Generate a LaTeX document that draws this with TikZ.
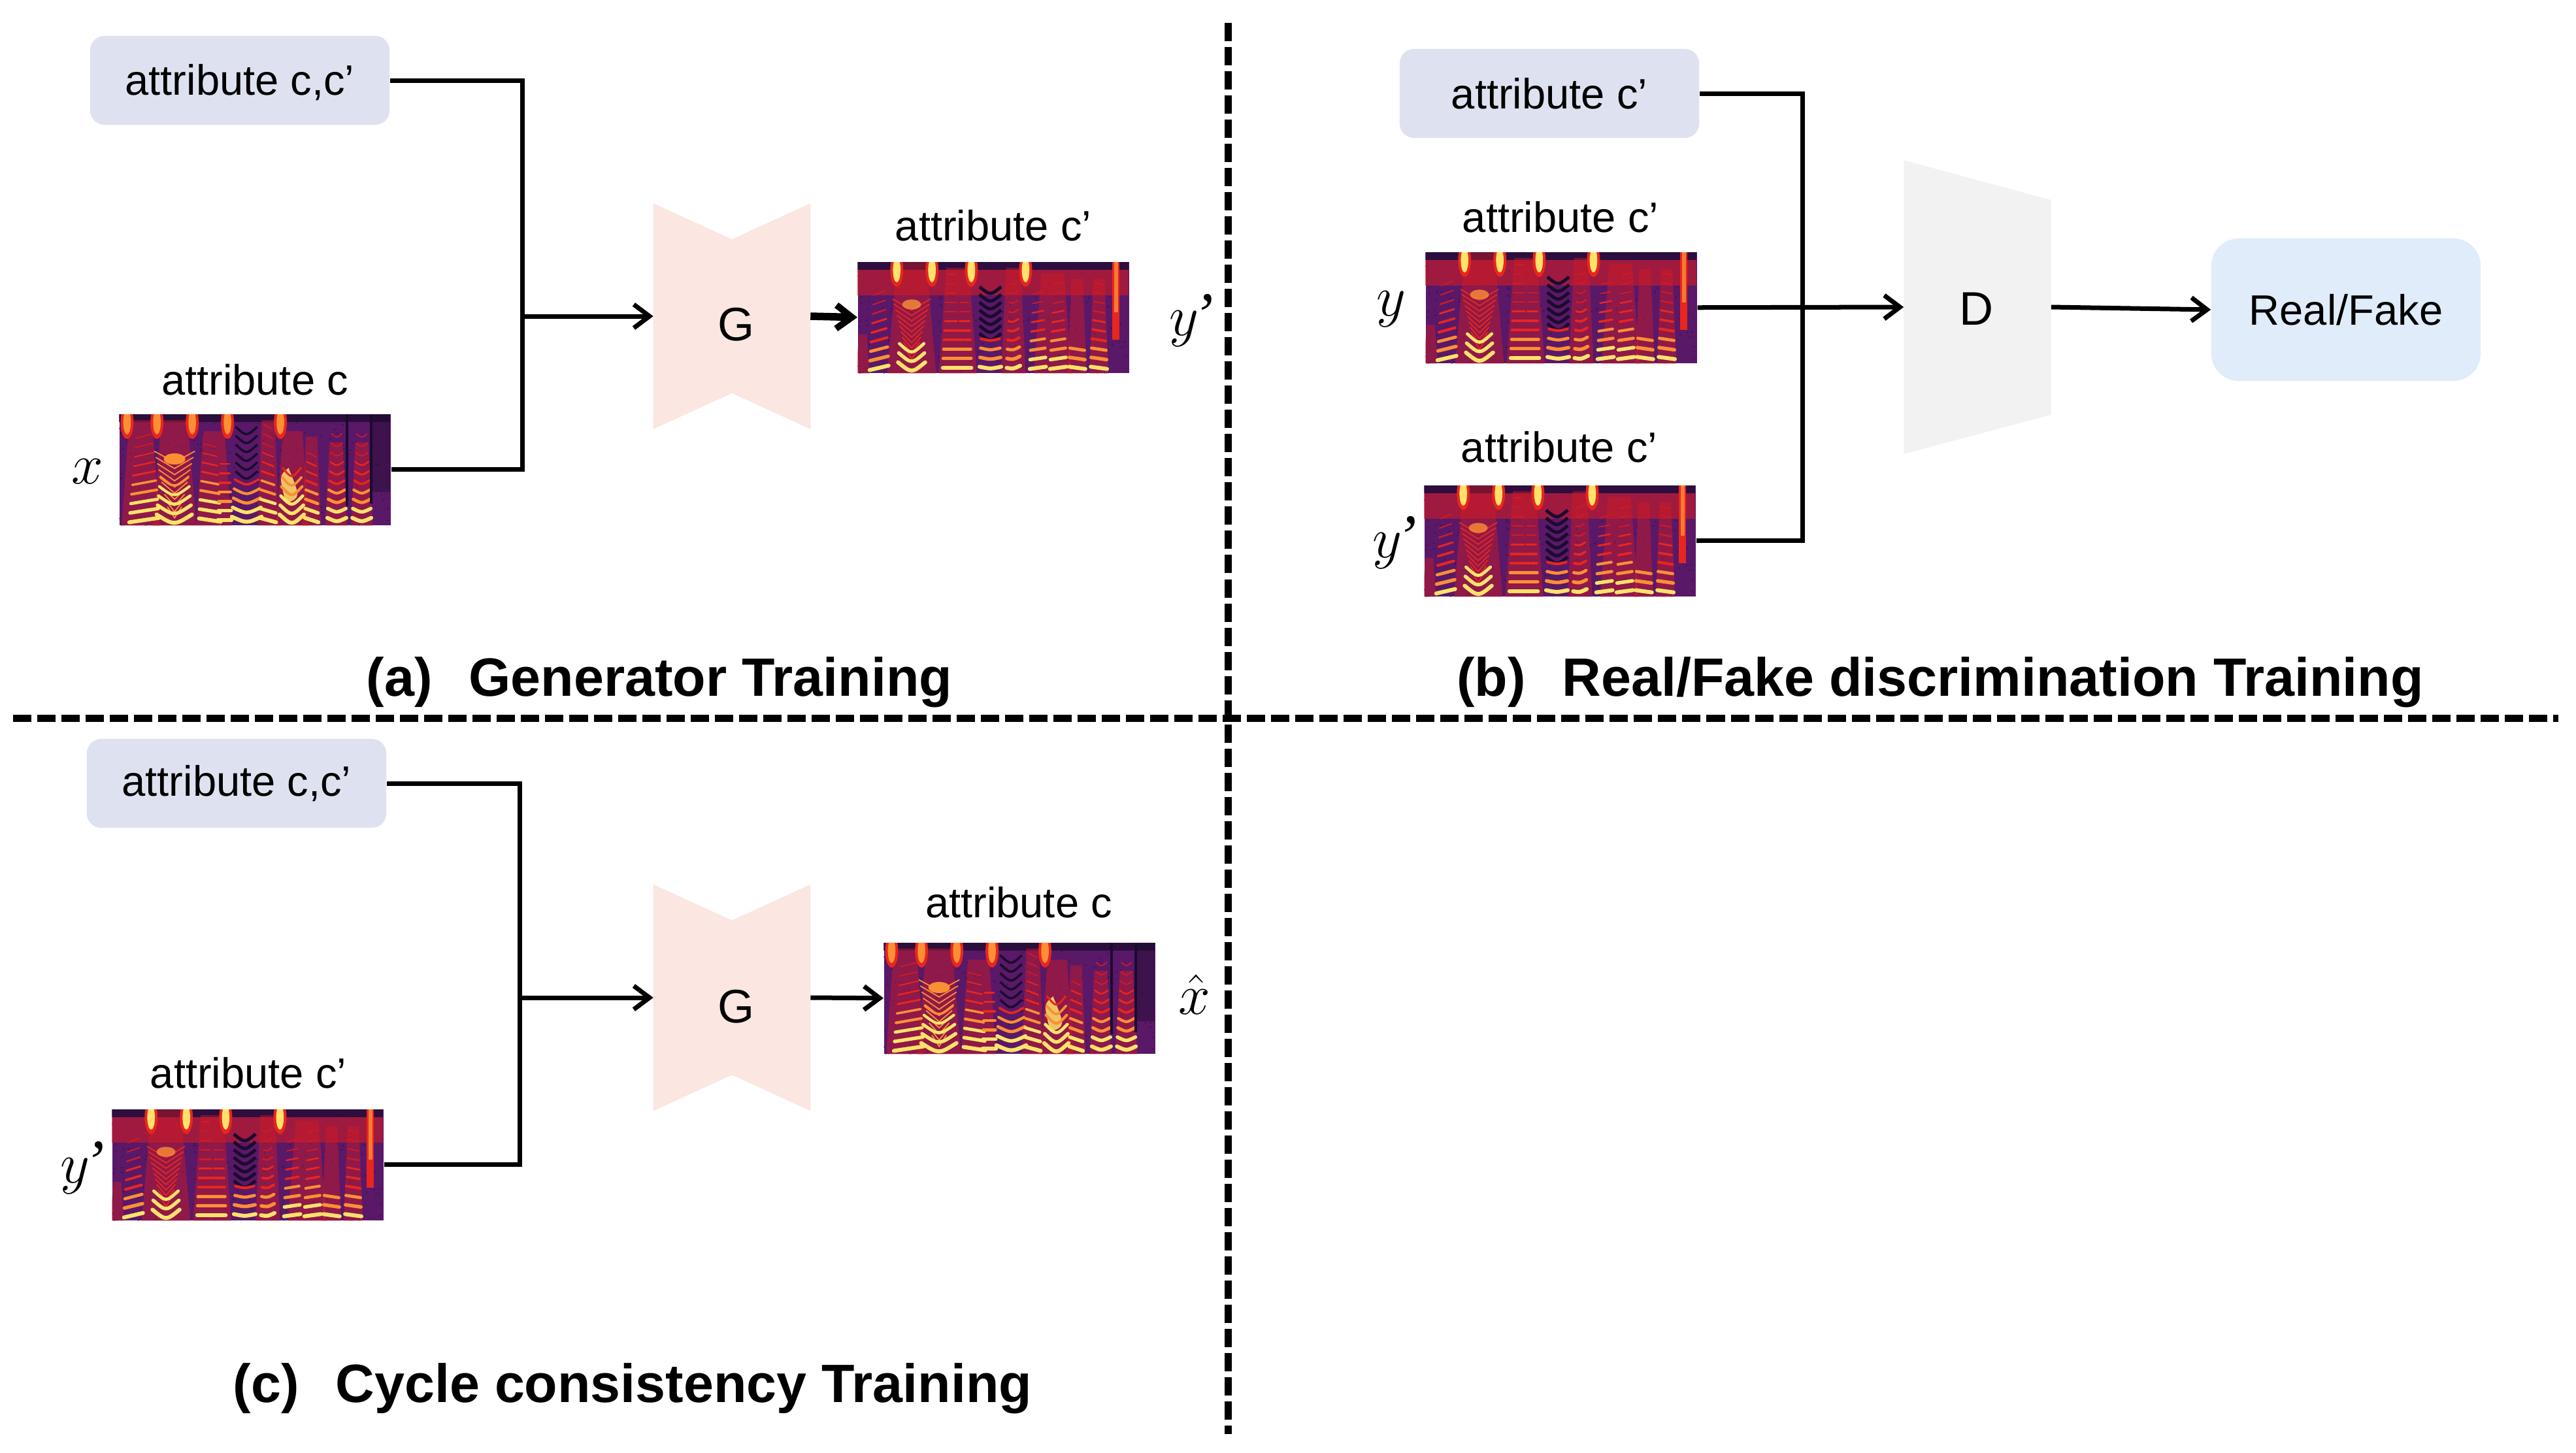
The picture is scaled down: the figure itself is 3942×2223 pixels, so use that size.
\documentclass[tikz,border=0pt]{standalone}
\usepackage{fontspec}
\setmainfont{Liberation Sans}
\newfontfamily\tickfont{Liberation Serif}
\usetikzlibrary{arrows.meta}
\definecolor{boxlav}{HTML}{DEE2F0}
\definecolor{boxblue}{HTML}{E0ECFA}
\definecolor{genpink}{HTML}{FBE6E1}
\definecolor{discgray}{HTML}{F2F2F2}
\definecolor{specbg}{HTML}{5A1868}
\definecolor{sp0}{HTML}{FFE26A}
\definecolor{sp1}{HTML}{FB8F34}
\definecolor{sp2}{HTML}{E8261E}
\definecolor{sp3}{HTML}{D01C24}
\definecolor{spdark}{HTML}{1B0B2E}
\tikzset{
  attrbox/.style={rounded corners=0.22cm,fill=boxlav,minimum width=4.58cm,minimum height=1.36cm,inner sep=0pt,font=\fontsize{18.5}{22}\selectfont},
  spec/.style={fill=specbg,minimum width=4.15cm,minimum height=1.70cm,inner sep=0pt,anchor=north west},
  lbl/.style={font=\fontsize{18.5}{22}\selectfont,inner sep=0pt},
  netlbl/.style={font=\fontsize{20.5}{24}\selectfont,inner sep=0pt},
  mathlbl/.style={font=\fontsize{27}{32}\selectfont,inner sep=0pt},
  ttl/.style={font=\fontsize{23.5}{28}\selectfont\bfseries,inner sep=0pt},
  netbox/.style={minimum width=2.39cm,inner sep=0pt},
  wire/.style={line width=0.07cm},
  flow/.style={line width=0.07cm,-{Straight Barb[length=0.24cm,width=0.36cm,line width=0.07cm]}},
  thickflow/.style={line width=0.115cm,-{Straight Barb[length=0.24cm,width=0.36cm,line width=0.1cm]}},
  divider/.style={line width=0.11cm,dash pattern=on 0.28cm off 0.09cm},
}
% one harmonic stack: centre, half width, curve, slope, top index, bright count
\newcommand\syl[6]{\foreach \k in {0,...,#5}{%
  \pgfmathsetmacro\yy{.05+.084*\k}%
  \pgfmathtruncatemacro\cc{\k<#6?0:(\k<(#6+2)?1:(\k<(#6+5)?2:3))}%
  \pgfmathsetmacro\lw{max(.016,.06-.006*\k)}%
  \pgfmathsetmacro\ww{#2*(1-.05*\k)}%
  \draw[draw=sp\cc,line width=\lw cm,line cap=round] (#1-\ww,\yy+#3-#4) .. controls (#1,\yy-#3) .. (#1+\ww,\yy+#3+#4);
}}
% fine chevrons filling a vowel: centre, half width, from height, to height, colour
\newcommand\fine[5]{\foreach \k in {0,...,9}{%
  \pgfmathsetmacro\yy{#3+(#4-#3)*\k/9}%
  \pgfmathsetmacro\ww{#2*(.35+.65*\k/9)}%
  \draw[draw=#5,line width=.018cm] (#1-\ww,\yy+.05) -- (#1,\yy-.05) -- (#1+\ww,\yy+.05);
}}
\newcommand\glow[3]{\fill[sp3,opacity=.45] (#1-#2,0) -- (#1+#2,0) -- (#1+.6*#2,#3) -- (#1-.6*#2,#3) -- cycle;}
\newcommand\blob[2]{\fill[sp2] (#1,.93) ellipse [x radius=.024,y radius=.15];
  \fill[sp#2] (#1,.93) ellipse [x radius=.014,y radius=.11];}
\newcommand\noisy{\pgfmathsetseed{11}\foreach \i in {1,...,260}{%
  \pgfmathsetmacro\px{rnd}\pgfmathsetmacro\py{rnd}%
  \fill[spdark,opacity=.55] (\px,\py) circle (0.012cm);}}
\newcommand\specA[1]{\begin{scope}[shift={(#1.south west)},x=4.15cm,y=1.70cm]
  \clip (0,0) rectangle (1,1);
  \noisy
  \fill[spdark,opacity=.75] (0,.93) rectangle (1,1);
  \fill[spdark,opacity=.45] (.93,.3) rectangle (1,1);
  \glow{.08}{.07}{.95}\glow{.205}{.08}{.95}\glow{.35}{.065}{.85}\glow{.55}{.04}{.95}\glow{.64}{.06}{.85}
  \glow{.71}{.035}{.8}\glow{.80}{.04}{.75}\glow{.895}{.04}{.75}
  \blob{.03}{1}\blob{.14}{1}\blob{.27}{1}\blob{.40}{1}\blob{.595}{1}
  \fine{.205}{.075}{.12}{.62}{sp1}
  \fill[sp1] (.205,.6) ellipse [x radius=.04,y radius=.05];
  \fill[sp0,opacity=.85] (.615,.2) .. controls (.67,.25) .. (.625,.52) .. controls (.59,.45) .. (.615,.2);
  \foreach \k in {5,...,10}{\draw[spdark,line width=.035cm] (.43,.08*\k+.09) .. controls (.47,.08*\k) .. (.51,.08*\k+.09);}
  \syl{.093}{.055}{0}{.02}{9}{3}
  \syl{.204}{.065}{.05}{0}{4}{4}
  \syl{.335}{.04}{0}{-.015}{8}{3}
  \syl{.39}{.025}{0}{0}{6}{2}
  \syl{.471}{.055}{.03}{0}{4}{2}
  \syl{.549}{.03}{0}{-.02}{10}{3}
  \syl{.637}{.045}{.05}{0}{5}{3}
  \syl{.71}{.025}{0}{-.02}{7}{2}
  \syl{.803}{.035}{.02}{0}{9}{2}
  \syl{.895}{.035}{.02}{0}{9}{2}
  \fill[spdark] (.836,0.18) rectangle (.846,1);
  \fill[spdark] (.925,0.2) rectangle (.935,1);
\end{scope}}
\newcommand\specB[1]{\begin{scope}[shift={(#1.south west)},x=4.15cm,y=1.70cm]
  \clip (0,0) rectangle (1,1);
  \noisy
  \fill[spdark,opacity=.7] (0,.93) rectangle (1,1);
  \fill[sp3,opacity=.6] (0,.7) rectangle (1,.93);
  \glow{.02}{.025}{.35}\glow{.2}{.09}{1}\glow{.37}{.07}{.95}\glow{.575}{.045}{.95}\glow{.72}{.07}{.9}\glow{.81}{.035}{.85}\glow{.89}{.035}{.85}
  \fill[sp2] (.94,.3) rectangle (.965,1);
  \fill[sp1,opacity=.8] (.947,.55) rectangle (.96,1);
  \blob{.145}{0}\blob{.275}{0}\blob{.42}{0}\blob{.62}{0}
  \fine{.2}{.07}{.18}{.62}{sp2}
  \fill[sp1,opacity=.8] (.2,.62) ellipse [x radius=.035,y radius=.045];
  \foreach \k in {4,...,10}{\draw[spdark,line width=.05cm] (.45,.07*\k+.08) .. controls (.49,.07*\k) .. (.53,.07*\k+.08);}
  \syl{.08}{.035}{0}{.02}{8}{1}
  \syl{.2}{.05}{.05}{0}{2}{3}
  \syl{.345}{.03}{0}{0}{10}{1}
  \syl{.395}{.025}{0}{0}{7}{1}
  \syl{.49}{.04}{.01}{0}{3}{1}
  \syl{.575}{.025}{.01}{.01}{9}{1}
  \syl{.665}{.03}{0}{.01}{8}{2}
  \syl{.74}{.03}{0}{.01}{9}{2}
  \syl{.81}{.03}{0}{-.01}{2}{1}
  \syl{.89}{.03}{0}{-.01}{9}{1}
\end{scope}}
% hourglass-shaped generator drawn round its named node
\newcommand\hourglass[1]{\fill[genpink] (#1.north west) -- ([yshift=-0.55cm]#1.north) -- (#1.north east) -- (#1.south east) -- ([yshift=0.55cm]#1.south) -- (#1.south west) -- cycle;}
\newcommand\ytick{$y$\kern-0.09em{\tickfont\itshape ’}}
\begin{document}
\begin{tikzpicture}[x=0.01cm,y=-0.01cm]
\useasboundingbox (0,0) rectangle (3942,2223);
\fill[white] (0,0) rectangle (3942,2223);

% dividers
\coordinate (vtop) at (1879,35); \coordinate (vbot) at (1879,2195);
\coordinate (hleft) at (20,1099); \coordinate (hright) at (3915,1099);
\draw[divider] (vtop) -- (vbot);
\draw[divider] (hleft) -- (hright);

% (a)
\node[attrbox,text height=0.46cm,text depth=0.02cm] (boxa) at (367,123) {attribute c,c’};
\node[spec] (xa) at (182,633) {};
\specA{xa}
\node[lbl] (lxa) at (390,581) {attribute c};
\node[mathlbl] (mxa) at (134,722) {$x$};
\node[netbox,minimum height=3.44cm] (ga) at (1120,484) {};
\hourglass{ga}
\node[netlbl] (gatxt) at (1127,497) {G};
\node[spec] (ya) at (1312,400) {};
\specB{ya}
\node[lbl] (lya) at (1520,345) {attribute c’};
\node[mathlbl] (mya) at (1823,490) {\ytick};
\coordinate (ja) at (799,484);
\draw[wire] (boxa.east) -| (ja);
\draw[wire] (xa.east) -| (ja);
\draw[flow] (ja) -- (ga.west);
\draw[thickflow] (ga.east) -- (ya.west);
\node[ttl] (ta) at (1009,1044) {(a)\ \ \kern.12em Generator Training};

% (b)
\node[attrbox] (boxb) at (2371,143) {attribute c’};
\node[spec] (yb) at (2181,385) {};
\specB{yb}
\node[lbl] (lyb) at (2388,332) {attribute c’};
\node[mathlbl] (myb) at (2129,473) {$y$};
\node[spec] (ypb) at (2179,742) {};
\specB{ypb}
\node[lbl] (lypb) at (2386,684) {attribute c’};
\node[mathlbl] (mypb) at (2134,830) {\ytick};
\node[netbox,minimum width=2.24cm,minimum height=4.48cm] (db) at (3026,470) {};
\fill[discgray] (db.north west) -- ([yshift=-0.61cm]db.north east) -- ([yshift=0.60cm]db.south east) -- (db.south west) -- cycle;
\node[netlbl] (dtxt) at (3024,473) {D};
\node[rounded corners=0.42cm,fill=boxblue,minimum width=4.12cm,minimum height=2.18cm,inner sep=0pt,font=\fontsize{18.5}{22}\selectfont] (rf) at (3590,474) {Real/Fake};
\coordinate (jb) at (2758,470);
\draw[wire] (boxb.east) -| (jb);
\draw[wire] (ypb.east) -| (jb);
\draw[flow] (yb.east) -- (db.west);
\draw[flow] (db.east) -- (rf.west);
\node[ttl] (tb) at (2969,1044) {(b)\ \ \kern.12em Real/Fake discrimination Training};

% (c)
\node[attrbox] (boxc) at (362,1199) {attribute c,c’};
\node[spec] (yc) at (171,1697) {};
\specB{yc}
\node[lbl] (lyc) at (380,1642) {attribute c’};
\node[mathlbl] (myc) at (126,1787) {\ytick};
\node[netbox,minimum height=3.45cm] (gc) at (1120,1527) {};
\hourglass{gc}
\node[netlbl] (gctxt) at (1127,1541) {G};
\node[spec] (xc) at (1352,1442) {};
\specA{xc}
\node[lbl] (lxc) at (1559,1381) {attribute c};
\node[mathlbl] (mxc) at (1828,1522) {$\hat{x}$};
\coordinate (jc) at (795,1527);
\draw[wire] (boxc.east) -| (jc);
\draw[wire] (yc.east) -| (jc);
\draw[flow] (jc) -- (gc.west);
\draw[flow] (gc.east) -- (xc.west);
\node[ttl] (tc) at (968,2125) {(c)\ \ \kern.12em Cycle consistency Training};
\end{tikzpicture}
\end{document}
